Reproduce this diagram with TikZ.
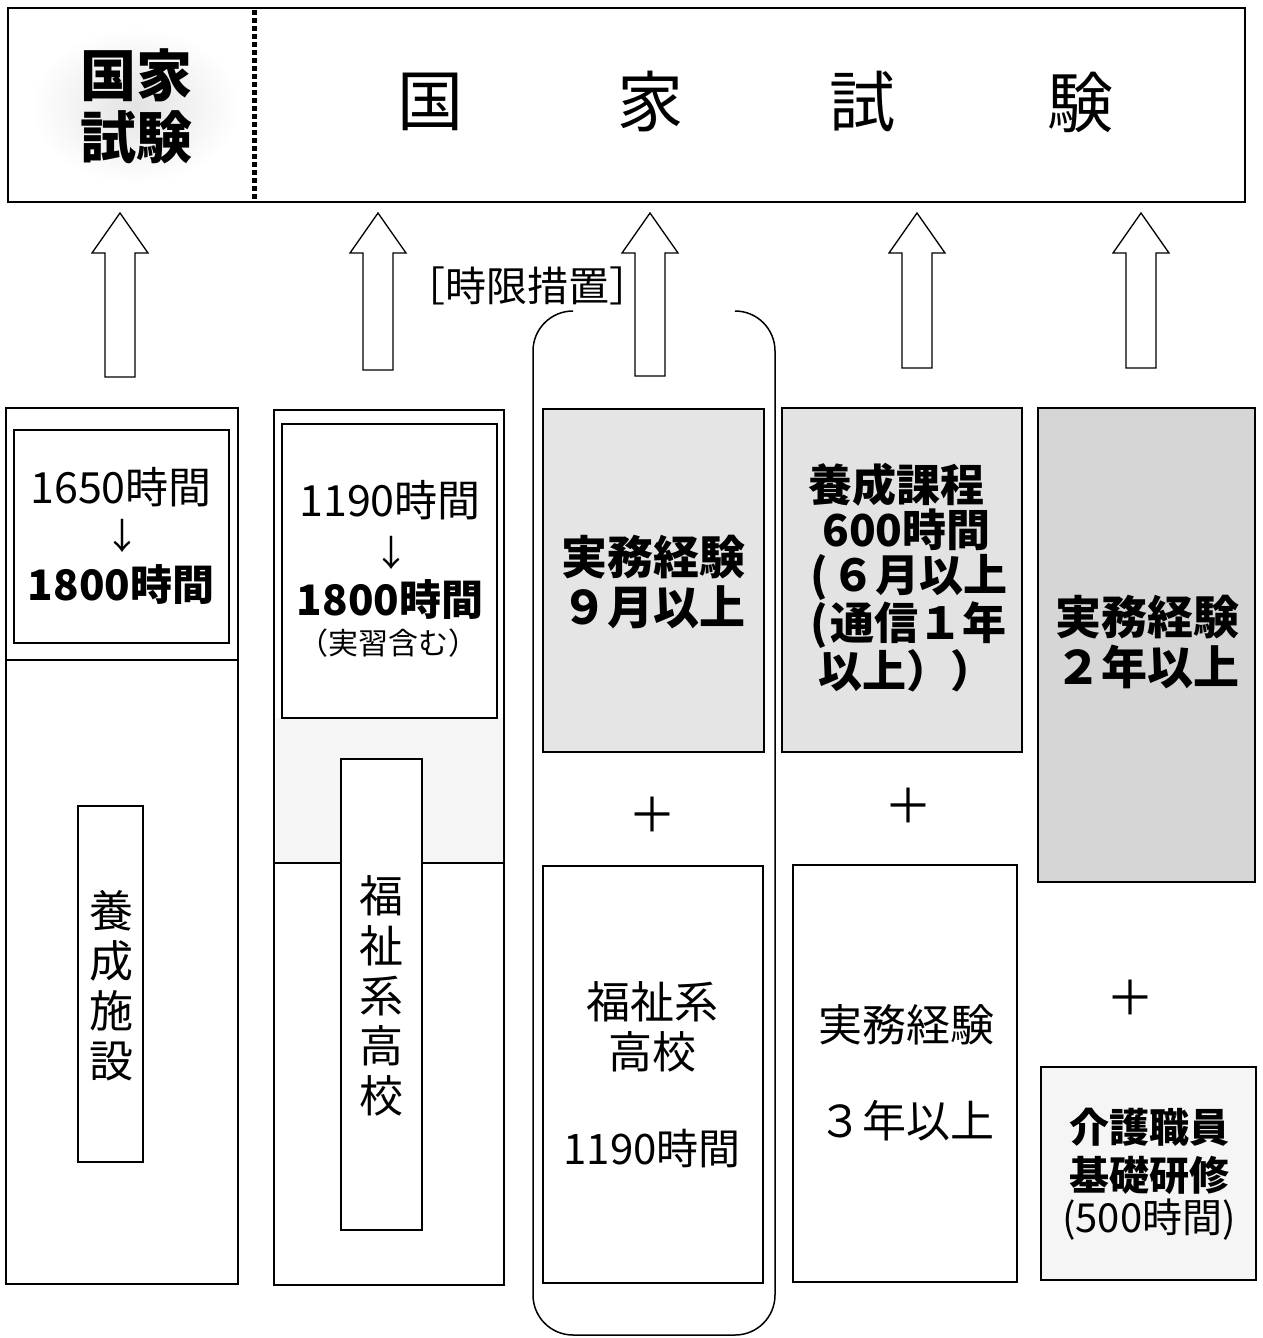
\documentclass[tikz,border=0pt]{standalone}
\usepackage{fontspec}
\newfontfamily\cjk{Noto Sans CJK JP}
\newcommand\setfs[2]{\fontsize{#1}{#2}\selectfont}
\begin{document}
\begin{tikzpicture}[x=1pt,y=-1pt,
  frame/.style={draw, line width=1.5, inner sep=0pt, outer sep=0pt, anchor=north west},
  txt/.style={font=\cjk, inner sep=0pt, align=center},
  blockarrow/.style={draw, line width=1.3, fill=white, line join=miter}]
\useasboundingbox (0,0) rectangle (1263,1338);

% ---------- header ----------
\node[frame, minimum width=1237, minimum height=194] (exam) at (8,8) {};
\shade[inner color=gray!22, outer color=white] (136,106) ellipse [x radius=105, y radius=78];
\foreach \yy in {10,18,...,198} \fill (252,\yy) rectangle (256.5,\yy+5);
\node[txt, font=\cjk\bfseries\setfs{56}{62}] (tl) at (136,106) {国家\\試験};
\node[txt, font=\cjk\setfs{66}{66}] (h1) at (430,102) {国};
\node[txt, font=\cjk\setfs{66}{66}] (h2) at (650,102) {家};
\node[txt, font=\cjk\setfs{66}{66}] (h3) at (862,102) {試};
\node[txt, font=\cjk\setfs{66}{66}] (h4) at (1080,102) {験};

% ---------- block arrows ----------
\newcommand\uparr[2]{\draw[blockarrow] (#1-15,#2) -- (#1-15,253) -- (#1-28,253) -- (#1,213) -- (#1+28,253) -- (#1+15,253) -- (#1+15,#2) -- cycle;}
\uparr{120}{377}
\uparr{378}{370}
\uparr{650}{376}
\uparr{917}{368}
\uparr{1141}{368}

% ---------- column 1 ----------
\node[frame, minimum width=232, minimum height=876] (c1) at (6,408) {};
\draw[line width=1.5] (c1.west |- 0,660) -- (c1.east |- 0,660);
\node[frame, minimum width=215, minimum height=213] (c1in) at (14,430) {};
\node[txt, font=\cjk\setfs{43}{43}] (c1t1) at (121,487) {1650時間};
\node[txt, font=\cjk\setfs{36}{36}] (c1t2) at (122,536) {↓};
\node[txt, font=\cjk\bfseries\setfs{42}{42}] (c1t3) at (121,585) {1800時間};
\node[frame, minimum width=65, minimum height=356] (c1v) at (78,806) {};
\node[txt, font=\cjk\setfs{44}{50}] (c1vt) at (111,986) {養\\成\\施\\設};

% ---------- column 2 ----------
\node[frame, minimum width=230, minimum height=875] (c2) at (274,410) {};
\fill[gray!8] (276,718) rectangle (503,863);
\draw[line width=1.5] (c2.west |- 0,863) -- (c2.east |- 0,863);
\node[frame, minimum width=215, minimum height=294] (c2in) at (282,424) {};
\node[txt, font=\cjk\setfs{43}{43}] (c2t1) at (390,500) {1190時間};
\node[txt, font=\cjk\setfs{36}{36}] (c2t2) at (391,553) {↓};
\node[txt, font=\cjk\bfseries\setfs{42}{42}] (c2t3) at (390,600) {1800時間};
\node[txt, font=\cjk\setfs{30}{30}] (c2t4) at (388,643) {（実習含む）};
\node[frame, fill=white, minimum width=81, minimum height=471] (c2v) at (341,759) {};
\node[txt, font=\cjk\setfs{44}{50}] (c2vt) at (381,996) {福\\祉\\系\\高\\校};

% ---------- column 3 (time-limited measure) ----------
\draw[line width=1.5, rounded corners=40] (573,311) -- (533,311) -- (533,1335) -- (775,1335) -- (775,311) -- (735,311);
\node[txt, font=\cjk\setfs{41}{41}] (tm) at (527,286) {［時限措置］};
\node[frame, fill=gray!20, minimum width=221, minimum height=343] (c3a) at (543,409) {};
\node[txt, font=\cjk\bfseries\setfs{46}{50}] (c3at) at (653,582) {実務経験\\９月以上};
\node[txt, font=\cjk\setfs{48}{48}] (p3) at (652,815) {＋};
\node[frame, minimum width=220, minimum height=417] (c3b) at (543,866) {};
\node[txt, font=\cjk\setfs{44}{50}] (c3bt) at (652,1027) {福祉系\\高校};
\node[txt, font=\cjk\setfs{42}{42}] (c3bt2) at (652,1149) {1190時間};

% ---------- column 4 ----------
\node[frame, fill=gray!22, minimum width=240, minimum height=344] (c4a) at (782,408) {};
\node[txt, align=left, anchor=north west, font=\cjk\bfseries\setfs{44}{45}] (c4at) at (808,463) {養成課程\\\hspace*{14pt}600時間\\\hspace*{2pt}(\hspace*{4pt}６月以上\\\hspace*{2pt}(\hspace*{3pt}通信１年\\\hspace*{10pt}以上））};
\node[txt, font=\cjk\setfs{48}{48}] (p4) at (908,806) {＋};
\node[frame, minimum width=224, minimum height=417] (c4b) at (793,865) {};
\node[txt, font=\cjk\setfs{44}{44}] (c4bt1) at (906,1025) {実務経験};
\node[txt, font=\cjk\setfs{44}{44}] (c4bt2) at (906,1121) {３年以上};

% ---------- column 5 ----------
\node[frame, fill=gray!32, minimum width=217, minimum height=474] (c5a) at (1038,408) {};
\node[txt, font=\cjk\bfseries\setfs{46}{50}] (c5at) at (1147,642) {実務経験\\２年以上};
\node[txt, font=\cjk\setfs{48}{48}] (p5) at (1130,998) {＋};
\node[frame, fill=gray!8, minimum width=215, minimum height=213] (c5b) at (1041,1067) {};
\node[txt, font=\cjk\bfseries\setfs{40}{48}] (c5bt) at (1149,1151) {介護職員\\基礎研修};
\node[txt, font=\cjk\setfs{40}{40}] (c5bt2) at (1149,1220) {(500時間)};
\end{tikzpicture}
\end{document}
